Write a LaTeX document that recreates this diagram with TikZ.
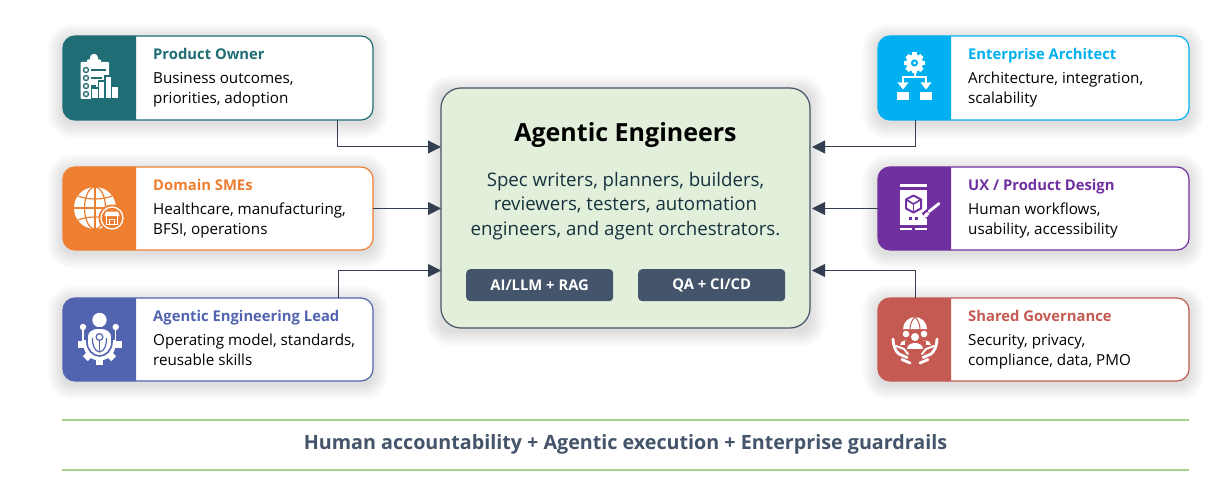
\documentclass[tikz,border=0pt]{standalone}
\usepackage{fontspec}
\setmainfont{Open Sans}
\usetikzlibrary{arrows.meta}
\definecolor{tealc}{HTML}{1F6E75}
\definecolor{orangec}{HTML}{EE7F31}
\definecolor{bluec}{HTML}{5264B0}
\definecolor{skyc}{HTML}{00B0F0}
\definecolor{purplec}{HTML}{7030A0}
\definecolor{redc}{HTML}{C55A52}
\definecolor{slatec}{HTML}{44546A}
\definecolor{arrowc}{HTML}{333F50}
\definecolor{mintc}{HTML}{E2EFDA}
\definecolor{rulec}{HTML}{A9D18E}
\definecolor{bodyc}{HTML}{17333F}
\newcommand{\softshadow}[4]{%
  \foreach \shd in {1,2,...,16}{%
    \fill[black,opacity=0.0065,rounded corners=10pt+\shd pt] (#1-\shd,#2-\shd+3) rectangle (#3+\shd,#4+\shd+3);}}
\newcommand{\cardbox}[7]{% name,x0,y0,x1,y1,split,color
  \softshadow{#2}{#3}{#4}{#5}
  \pgfmathsetmacro{\cardwd}{#4-#2}\pgfmathsetmacro{\cardht}{#5-#3}
  \node[cardshape,draw=#7,minimum width=\cardwd pt,minimum height=\cardht pt] (#1) at (#2,#3) {};
  \begin{scope}
    \clip (#2-1,#3-1) rectangle (#6,#5+1);
    \fill[#7,rounded corners=12pt] (#2,#3) rectangle (#4,#5);
  \end{scope}}
\tikzset{
  x=1pt,y=-1pt,
  cardshape/.style={rectangle,rounded corners=12pt,fill=white,line width=1.2pt,anchor=north west,inner sep=0pt,outer sep=0pt},
  cardtitle/.style={anchor=base west,inner sep=0pt,yshift=-0.8pt,font=\fontsize{14.8}{16}\selectfont\bfseries},
  cardbody/.style={anchor=base west,inner sep=0pt,yshift=-0.8pt,font=\fontsize{15.2}{16}\selectfont,text=black},
  centerbody/.style={anchor=base,inner sep=0pt,yshift=-0.8pt,font=\fontsize{18.7}{20}\selectfont,text=bodyc},
  pill/.style={rectangle,rounded corners=4pt,fill=slatec,text=white,minimum width=147pt,minimum height=32pt,anchor=north west,inner sep=0pt,font=\fontsize{14.8}{16}\selectfont\bfseries},
  conn/.style={draw=arrowc,line width=1pt,-{Triangle[length=13pt,width=13pt,color=arrowc]}},
  connr/.style={conn,shorten >=2pt},
}
\begin{document}
\begin{tikzpicture}
\useasboundingbox (0,0) rectangle (1221,500);
\fill[white] (0,0) rectangle (1221,500);

% centre box
\softshadow{441}{88}{810}{328}
\node[rectangle,rounded corners=20pt,fill=mintc,draw=slatec,line width=1.2pt,minimum width=369pt,minimum height=240pt,anchor=north west,inner sep=0pt,outer sep=0pt] (eng) at (441,88) {};

% cards
\cardbox{po}{63}{36}{373}{120}{136}{tealc}
\cardbox{sme}{63}{167}{373}{250}{136}{orangec}
\cardbox{lead}{63}{298}{373}{381}{136}{bluec}
\cardbox{ea}{878}{36}{1189}{120}{951}{skyc}
\cardbox{ux}{878}{167}{1189}{250}{951}{purplec}
\cardbox{gov}{878}{298}{1189}{381}{951}{redc}

% connectors
\coordinate (elbowA) at (337,147);
\coordinate (elbowB) at (338,270.5);
\coordinate (elbowC) at (915,147);
\coordinate (elbowD) at (915,270.5);
\coordinate (midL) at (373,208.5);
\coordinate (midR) at (878,208.5);
\draw[conn] (elbowA |- po.south) -- (elbowA) -- (elbowA -| eng.west);
\draw[conn] (midL) -- (midL -| eng.west);
\draw[conn] (elbowB |- lead.north) -- (elbowB) -- (elbowB -| eng.west);
\draw[connr] (elbowC |- ea.south) -- (elbowC) -- (elbowC -| eng.east);
\draw[connr] (midR) -- (midR -| eng.east);
\draw[connr] (elbowD |- gov.north) -- (elbowD) -- (elbowD -| eng.east);

% card text
\node[cardtitle,text=tealc] (poT) at (153,59) {Product Owner};
\node[cardbody] (poA) at (153,83) {Business outcomes,};
\node[cardbody] (poB) at (153,103) {priorities, adoption};
\node[cardtitle,text=orangec] (smeT) at (153,190) {Domain SMEs};
\node[cardbody] (smeA) at (153,214) {Healthcare, manufacturing,};
\node[cardbody] (smeB) at (153,234) {BFSI, operations};
\node[cardtitle,text=bluec] (leadT) at (153,321) {Agentic Engineering Lead};
\node[cardbody] (leadA) at (153,345) {Operating model, standards,};
\node[cardbody] (leadB) at (153,365) {reusable skills};
\node[cardtitle,text=skyc] (eaT) at (968,59) {Enterprise Architect};
\node[cardbody] (eaA) at (968,83) {Architecture, integration,};
\node[cardbody] (eaB) at (968,103) {scalability};
\node[cardtitle,text=purplec] (uxT) at (968,190) {UX / Product Design};
\node[cardbody] (uxA) at (968,214) {Human workflows,};
\node[cardbody] (uxB) at (968,234) {usability, accessibility};
\node[cardtitle,text=redc] (govT) at (968,321) {Shared Governance};
\node[cardbody] (govA) at (968,345) {Security, privacy,};
\node[cardbody] (govB) at (968,365) {compliance, data, PMO};

% centre text
\node[anchor=base,inner sep=0pt,yshift=-0.8pt,font=\fontsize{25}{28}\selectfont\bfseries,text=black] (engT) at (625.5,141) {Agentic Engineers};
\node[centerbody] (engA) at (625.5,186) {Spec writers, planners, builders,};
\node[centerbody] (engB) at (625.5,210) {reviewers, testers, automation};
\node[centerbody] (engC) at (625.5,235) {engineers, and agent orchestrators.};
\node[pill] (pillA) at (466,269) {AI/LLM + RAG};
\node[pill] (pillB) at (638,269) {QA + CI/CD};

% bottom band
\coordinate (ruleL) at (62,420);
\coordinate (ruleR) at (1189,420);
\coordinate (ruleLb) at (62,470);
\coordinate (ruleRb) at (1189,470);
\draw[rulec,line width=1.6pt] (ruleL) -- (ruleR);
\draw[rulec,line width=1.6pt] (ruleLb) -- (ruleRb);
\node[anchor=base,inner sep=0pt,yshift=-0.8pt,font=\fontsize{19.7}{24}\selectfont\bfseries,text=slatec] (band) at (625.5,449) {Human accountability + Agentic execution + Enterprise guardrails};

% ---- icon: Product Owner
\fill[white,rounded corners=1pt] (80.5,62) rectangle (109,99);
\fill[white,rounded corners=1pt] (87,59.5) rectangle (101,64);
\fill[white] (94,58) circle (4.2);
\foreach \yy in {70,78,86,94}{\draw[tealc,line width=1.3pt] (86,\yy) circle (2.5);}
\draw[tealc,line width=1.3pt] (90.5,70) -- (106,70);
\draw[tealc,line width=1.3pt] (90.5,78) -- (102,78);
\draw[tealc,line width=1.3pt] (90.5,86) -- (96,86);
\fill[tealc] (90.5,87.5) rectangle (118.5,100);
\fill[tealc] (97.5,80.5) rectangle (112.5,90);
\fill[tealc] (103.5,75.5) rectangle (112.5,82);
\fill[white] (92,89) rectangle (97.5,98.5);
\fill[white] (99,82) rectangle (104.3,98.5);
\fill[white] (105.5,77) rectangle (111,98.5);
\fill[white] (112,87) rectangle (117.5,98.5);

% ---- icon: Domain SMEs
\fill[white] (95,208) circle (21);
\draw[orangec,line width=1.2pt] (95,187) -- (95,229);
\draw[orangec,line width=1.2pt] (74,208) -- (116,208);
\draw[orangec,line width=1.2pt] (95,208) ellipse (10.5 and 21);
\draw[orangec,line width=1.2pt] (78,196) .. controls (88,200) and (102,200) .. (112,196);
\draw[orangec,line width=1.2pt] (78,220) .. controls (88,216) and (102,216) .. (112,220);
\fill[orangec] (112,218) circle (13.5);
\draw[white,line width=1.3pt] (112,218) circle (11);
\fill[white] (106,211.5) -- (118,211.5) -- (119.5,216) -- (104.5,216) -- cycle;
\draw[white,line width=1.2pt] (106.5,216) -- (106.5,224.5) -- (117.5,224.5) -- (117.5,216);
\draw[white,line width=1.2pt] (109.5,224.5) -- (109.5,219.5) -- (114.5,219.5) -- (114.5,224.5);

% ---- icon: Agentic Engineering Lead
\foreach \a in {0,45,...,135}{\fill[white,shift={(99.5,344.5)},rotate=\a] (-3.4,-20) rectangle (3.4,20);}
\fill[white,shift={(99.5,344.5)}] (-22,-3.2) rectangle (22,3.2);
\fill[white] (99.5,344.5) circle (16);
\fill[bluec] (72,312) rectangle (127,339.5);
\fill[white] (99.5,320) circle (7.2);
\fill[white] (83,327) circle (3.2);
\fill[white] (115.7,327) circle (3.2);
\draw[white,line width=1.3pt] (83,327) -- (83,341);
\draw[white,line width=1.3pt] (115.7,327) -- (115.7,341);
\fill[white,draw=bluec,line width=1.6pt] (87,337) .. controls (87,331) and (92,328) .. (99.5,328) .. controls (107,328) and (112,331) .. (112,337) -- (112,342) .. controls (112,350) and (106,356) .. (99.5,356) .. controls (93,356) and (87,350) .. (87,342) -- cycle;
\draw[bluec,line width=1.2pt] (99.5,337) circle (3.4);
\draw[bluec,line width=1.2pt] (99.5,340.4) -- (99.5,352);
\draw[bluec,line width=1.2pt] (92.5,338) .. controls (92.5,346) and (94.5,351) .. (99.5,352) .. controls (104.5,351) and (106.5,346) .. (106.5,338);

% ---- icon: Enterprise Architect
\foreach \a in {0,45,...,135}{\fill[white,shift={(914.5,63)},rotate=\a] (-2.4,-10.5) rectangle (2.4,10.5);}
\fill[white] (914.5,63) circle (8.5);
\fill[skyc] (914.5,63) circle (3.6);
\fill[white] (914.5,63) circle (1.5);
\draw[white,line width=2pt] (914.5,73) -- (914.5,77);
\draw[white,line width=2pt] (903,84) -- (903,77) -- (926,77) -- (926,84);
\fill[white] (897.5,82.5) -- (908.5,82.5) -- (903,89.5) -- cycle;
\fill[white] (920.5,82.5) -- (931.5,82.5) -- (926,89.5) -- cycle;
\fill[white] (897,92) rectangle (909,100);
\fill[white] (920,92) rectangle (932,100);

% ---- icon: UX / Product Design
\fill[white] (899.5,184) rectangle (927,187);
\fill[white] (899.5,190) rectangle (927,225);
\fill[white] (899.5,228) rectangle (911.5,230);
\fill[white] (915,228) rectangle (927,230);
\draw[purplec,line width=2pt,line join=round] (913.5,195.5) -- (921,199.5) -- (921,208.5) -- (913.5,212.5) -- (906,208.5) -- (906,199.5) -- cycle;
\draw[purplec,line width=1.6pt] (906,199.5) -- (913.5,204) -- (921,199.5);
\draw[purplec,line width=1.6pt] (913.5,204) -- (913.5,212.5);
\fill[purplec] (909,216.5) rectangle (912,219.5);
\fill[purplec] (915,216.5) rectangle (918,219.5);
\draw[purplec,line width=7pt] (924,216) -- (941,202);
\draw[white,line width=2.8pt,line cap=round] (929,211.5) -- (939,203.5);
\fill[white] (924.5,214) .. controls (926,211.5) and (928,211.5) .. (929.5,213.5) .. controls (929,216.5) and (926,218) .. (923.5,218) -- cycle;

% ---- icon: Shared Governance
\fill[white] (903,329) .. controls (903,322) and (909,317) .. (915,317) .. controls (921,317) and (927,322) .. (927,329) -- cycle;
\draw[redc,line width=1pt] (910,329) .. controls (910,324) and (912,320) .. (915,317) .. controls (918,320) and (920,324) .. (920,329);
\fill[white] (906,334) circle (3.3);
\fill[white] (924,334) circle (3.3);
\fill[white] (915,337) circle (4);
\fill[white] (899.5,345) .. controls (899.5,339) and (911,339) .. (911,345) -- cycle;
\fill[white] (919,345) .. controls (919,339) and (930.5,339) .. (930.5,345) -- cycle;
\fill[redc] (904.5,341) rectangle (925.5,349);
\fill[white] (907,348.5) .. controls (907,340.5) and (923,340.5) .. (923,348.5) -- cycle;
\draw[white,line width=2.8pt,line join=round,line cap=round] (893,339) .. controls (893.5,347) and (895.5,351) .. (899,354) -- (907,357.5);
\draw[white,line width=2pt,line cap=round] (896,346) -- (904,349) -- (908,354);
\draw[white,line width=2.8pt,line cap=round] (902,359.5) -- (910,363);
\draw[white,line width=2.8pt,line join=round,line cap=round] (937,339) .. controls (936.5,347) and (934.5,351) .. (931,354) -- (923,357.5);
\draw[white,line width=2pt,line cap=round] (934,346) -- (926,349) -- (922,354);
\draw[white,line width=2.8pt,line cap=round] (928,359.5) -- (920,363);
\end{tikzpicture}
\end{document}
